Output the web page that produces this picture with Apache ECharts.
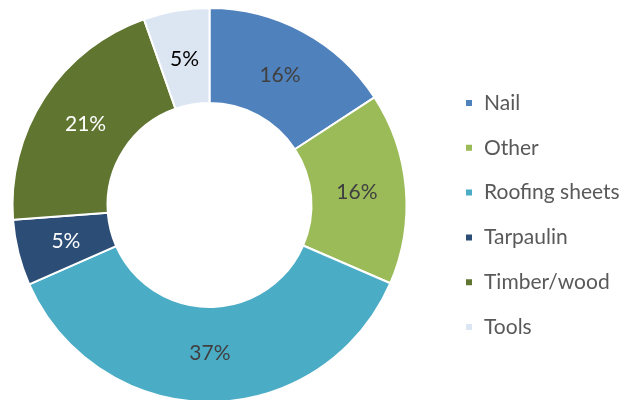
<!DOCTYPE html>
<html lang="en">
<head>
    <meta charset="UTF-8">
    <title>Materials</title>
    <script src="https://cdn.jsdelivr.net/npm/echarts@6/dist/echarts.min.js"></script>
    <style>
        html, body { margin: 0; padding: 0; background: #fff; }
    </style>
</head>
<body>
    <div id="main" style="width: 639px;height:400px;"></div>
    <script>
// data (shares in %)
var categories = ['Nail', 'Other', 'Roofing sheets', 'Tarpaulin', 'Timber/wood', 'Tools'];
var shares = [15.8, 15.7, 36.9, 5.4, 20.8, 5.4];
var colors = ['#4F81BD', '#9BBB59', '#4BACC6', '#2C4D75', '#5F7530', '#DCE6F2'];
var labelColors = ['#404040', '#404040', '#404040', '#ffffff', '#ffffff', '#000000'];

var myChart = echarts.init(document.getElementById('main'));

var pieData = categories.map(function (name, i) {
    return {
        name: name,
        value: shares[i],
        itemStyle: { color: colors[i] }
    };
});

// same values again, invisible, only to carry the % labels a bit closer to the hole
var labelData = categories.map(function (name, i) {
    return {
        name: name,
        value: shares[i],
        label: { color: labelColors[i] }
    };
});

var option = {
    animation: false,
    legend: {
        orient: 'vertical',
        left: 459,
        top: 87,
        icon: 'rect',
        itemWidth: 8,
        itemHeight: 8,
        itemGap: 22.8,
        textStyle: {
            fontFamily: 'Lato',
            fontSize: 21,
            lineHeight: 22,
            color: '#595959',
            padding: [0, 0, 0, 6]
        },
        data: categories
    },
    series: [
        {
            type: 'pie',
            center: [209.5, 205],
            radius: [102, 197],
            startAngle: 90,
            clockwise: true,
            itemStyle: {
                borderColor: '#ffffff',
                borderWidth: 2
            },
            label: { show: false },
            labelLine: { show: false },
            emphasis: { disabled: true },
            data: pieData
        },
        {
            type: 'pie',
            silent: true,
            center: [209.5, 205],
            radius: [102, 188],
            startAngle: 90,
            clockwise: true,
            itemStyle: { color: 'rgba(0,0,0,0)' },
            label: {
                position: 'inside',
                fontFamily: 'Lato',
                fontSize: 21,
                formatter: function (p) {
                    return Math.round(p.percent) + '%';
                }
            },
            labelLine: { show: false },
            emphasis: { disabled: true },
            data: labelData
        }
    ]
};
myChart.setOption(option);
    </script>
</body>
</html>
